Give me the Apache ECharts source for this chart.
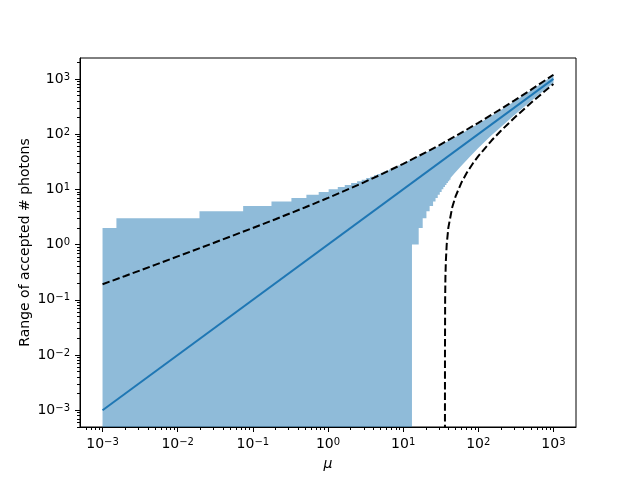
<!DOCTYPE html>
<html>
<head>
<meta charset="utf-8">
<script src="https://cdn.jsdelivr.net/npm/echarts@6/dist/echarts.min.js"></script>
<style>
html, body { margin: 0; padding: 0; background: #fff; }
#main { width: 640px; height: 480px; }
</style>
</head>
<body>
<div id="main"></div>
<script>
// 十进位刻度
var decades = [0.001, 0.01, 0.1, 1, 10, 100, 1000];

// y = mu 直线
var lineMu = [0.001, 1000];
var lineN = [0.001, 1000];

// 上虚线
var upperDashMu = [0.001, 0.002, 0.005, 0.01, 0.02, 0.05, 0.1, 0.2, 0.5, 1, 2, 3, 5, 10, 20, 30, 50, 100, 200, 300, 500, 1000];
var upperDashN = [0.191, 0.270, 0.429, 0.61, 0.869, 1.392, 2.0, 2.88, 4.74, 7.0, 10.5, 13.39, 18.4, 29.0, 46.8, 62.9, 92.4, 160, 284.9, 403.9, 634.2, 1189.7];

// 下虚线
var lowerDashMu = [36.0008, 36.002, 36.02, 36.2, 36.5, 37, 38, 40, 45, 50, 60, 70, 85, 100, 150, 200, 300, 500, 700, 1000];
var lowerDashN = [0.0004, 0.001, 0.01, 0.1, 0.251, 0.503, 1.013, 2.05, 4.75, 7.57, 13.5, 19.8, 29.7, 40, 76.5, 115.1, 196.1, 365.8, 541.3, 810.3];

// 接受区间上界：台阶部分
var hiStepMu = [0.001, 0.00153, 0.0195, 0.0743, 0.177, 0.326, 0.516, 0.752, 1.02, 1.35, 1.67, 2.03, 2.44, 2.81, 3.22, 3.65, 4.09, 4.54, 5.01, 5.49, 5.98, 6.48, 6.98, 7.50, 8.03, 8.57, 9.11, 9.66, 10.2];
var hiStepN = [2, 3, 4, 5, 6, 7, 8, 9, 10, 11, 12, 13, 14, 15, 16, 17, 18, 19, 20, 21, 22, 23, 24, 25, 26, 27, 28, 29, 30];
// 上界：平滑部分
var hiMu = [13.1, 16.1, 22.5, 30, 40, 50, 70, 100, 150, 200, 300, 500, 700, 1000];
var hiN = [35, 40, 50, 61, 75, 89, 116, 154, 215, 274, 390, 616, 836, 1162];

// 接受区间下界：台阶部分
var loStepMu = [0.001, 13.1, 16.1, 18.2, 20.4, 22.5, 25.0, 26.97, 28.86, 30.71, 32.51, 34.27, 36.0, 37.7, 39.4, 41.03, 42.66];
var loStepN = [0, 1, 2, 3, 4, 5, 6, 7, 8, 9, 10, 11, 12, 13, 14, 15, 16];
// 下界：平滑部分
var loMu = [49, 60, 80, 100, 150, 200, 300, 500, 700, 1000];
var loN = [20, 27, 41, 56, 95, 135, 219, 394, 574, 848];

var font = 'DejaVu Sans';

function zip(a, b) {
    var out = [];
    for (var i = 0; i < a.length; i++) out.push([a[i], b[i]]);
    return out;
}

// 台阶 + 平滑 边界点
function edge(stepMu, stepN, mu, n) {
    var pts = [];
    for (var i = 0; i < stepMu.length; i++) {
        pts.push([stepMu[i], stepN[i]]);
        if (i + 1 < stepMu.length) pts.push([stepMu[i + 1], stepN[i]]);
    }
    for (var j = 0; j < mu.length; j++) pts.push([mu[j], n[j]]);
    return pts;
}

var upperEdge = edge(hiStepMu, hiStepN, hiMu, hiN);
var lowerEdge = edge(loStepMu, loStepN, loMu, loN);

// 次刻度 2..9
function minorTicks(lo, hi) {
    var out = [];
    for (var d = 0.0001; d <= 1000; d *= 10) {
        for (var k = 2; k <= 9; k++) {
            var v = k * d;
            if (v >= lo && v <= hi) out.push(v);
        }
    }
    return out;
}

var xMin = Math.pow(10, -3.3), xMax = Math.pow(10, 3.3);
var yMin = Math.pow(10, -3.304), yMax = Math.pow(10, 3.379);

function powLabel(v) {
    var e = Math.round(Math.log(v) / Math.LN10);
    var s = e < 0 ? '\u2212' + (-e) : '' + e;
    return '{b|10}{e|' + s + '}';
}

var rich = {
    b: { fontFamily: font, fontSize: 14, lineHeight: 14, verticalAlign: 'bottom', color: '#000' },
    e: { fontFamily: font, fontSize: 10, lineHeight: 10, verticalAlign: 'top', padding: [0, 0, 7, 0], color: '#000' }
};

function majorAxis(min, max, extra) {
    var ax = {
        type: 'log',
        min: min,
        max: max,
        splitLine: { show: false },
        axisLine: { lineStyle: { color: '#000', width: 1 } },
        axisTick: { length: 5, lineStyle: { color: '#000' }, customValues: decades },
        axisLabel: { margin: 10, formatter: powLabel, rich: rich, customValues: decades },
        nameTextStyle: { fontFamily: font, fontSize: 14, color: '#000' },
        nameMoveOverlap: false
    };
    for (var k in extra) ax[k] = extra[k];
    return ax;
}

function minorAxis(min, max, pos) {
    return {
        type: 'log',
        min: min,
        max: max,
        position: pos,
        splitLine: { show: false },
        axisLine: { show: false },
        axisTick: { length: 3, lineStyle: { color: '#000' }, customValues: minorTicks(min, max) },
        axisLabel: { show: false }
    };
}

var myChart = echarts.init(document.getElementById('main'));

myChart.setOption({
    animation: false,
    backgroundColor: '#fff',
    grid: { left: 80, right: 64, top: 58, bottom: 53, show: true, borderColor: '#000', borderWidth: 1 },
    xAxis: [
        majorAxis(xMin, xMax, { position: 'bottom', name: 'μ', nameLocation: 'middle', nameGap: 30,
            nameTextStyle: { fontFamily: font, fontSize: 14, fontStyle: 'italic', color: '#000' } }),
        minorAxis(xMin, xMax, 'bottom')
    ],
    yAxis: [
        majorAxis(yMin, yMax, { position: 'left', name: 'Range of accepted # photons', nameLocation: 'middle', nameGap: 48, nameRotate: 90 }),
        minorAxis(yMin, yMax, 'left')
    ],
    series: [
        {
            // 接受区间填充
            type: 'custom',
            z: 1,
            silent: true,
            data: [[lineMu[0], lineN[0]]],
            encode: { x: 0, y: 1 },
            renderItem: function (params, api) {
                var bottom = params.coordSys.y + params.coordSys.height;
                var pt = function (p) {
                    var c = api.coord([p[0], p[1] > 0 ? p[1] : 1]);
                    if (!(p[1] > 0)) c[1] = bottom;
                    return c;
                };
                var pts = [];
                for (var i = 0; i < upperEdge.length; i++) pts.push(pt(upperEdge[i]));
                for (var j = lowerEdge.length - 1; j >= 0; j--) pts.push(pt(lowerEdge[j]));
                return {
                    type: 'polygon',
                    shape: { points: pts },
                    style: { fill: 'rgba(31,119,180,0.5)', stroke: null }
                };
            }
        },
        {
            type: 'line',
            z: 2,
            data: zip(lineMu, lineN),
            showSymbol: false,
            lineStyle: { color: '#1f77b4', width: 2 }
        },
        {
            type: 'line',
            z: 3,
            data: zip(upperDashMu, upperDashN),
            showSymbol: false,
            lineStyle: { color: '#000', width: 2, type: [7.5, 3.2] }
        },
        {
            type: 'line',
            z: 3,
            data: zip(lowerDashMu, lowerDashN),
            showSymbol: false,
            lineStyle: { color: '#000', width: 2, type: [7.5, 3.2] }
        }
    ]
});
</script>
</body>
</html>
